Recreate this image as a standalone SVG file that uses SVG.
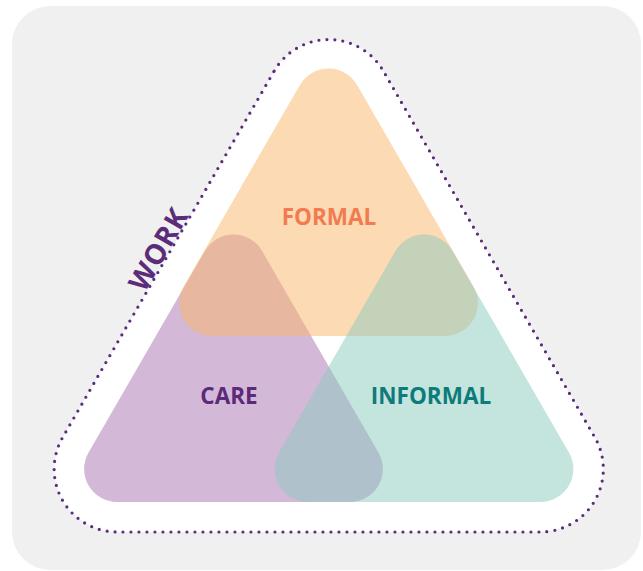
<svg xmlns="http://www.w3.org/2000/svg" width="643" height="571" viewBox="0 0 643 571">
<style>
.bg{fill:#f0f0f0}
.work{fill:#ffffff;stroke:#5b2c7a;stroke-width:3.2;stroke-linecap:round;stroke-dasharray:0 8}
.tri{fill-opacity:0.5}
.lbl{font-family:"Open Sans","Liberation Sans",sans-serif;font-weight:700;font-size:22.5px;text-anchor:middle}
.big{font-size:28px;letter-spacing:1px}
</style>
<rect class="bg" x="12" y="6" width="629" height="564" rx="38"/>
<g id="work">
<path class="work" d="M274.19 71 A63 63 0 0 1 383.31 71 L594.89 437.5 A63 63 0 0 1 540.35 532 L117.15 532 A63 63 0 0 1 62.61 437.5 Z"/>
<text class="lbl big" fill="#5b2c7a" transform="translate(167 254) rotate(-60)">WORK</text>
</g>
<g id="care">
<path class="tri" fill="#a971af" d="M204.92 251 A33 33 0 0 1 262.08 251 L378.42 452.5 A33 33 0 0 1 349.84 502 L117.16 502 A33 33 0 0 1 88.58 452.5 Z"/>
<text class="lbl" fill="#5b2a78" x="229" y="404">CARE</text>
</g>
<g id="formal">
<path class="tri" fill="#f9b569" d="M299.92 85 A33 33 0 0 1 357.08 85 L473.42 286.5 A33 33 0 0 1 444.84 336 L212.16 336 A33 33 0 0 1 183.58 286.5 Z"/>
<text class="lbl" fill="#f07c50" x="329" y="225">FORMAL</text>
</g>
<g id="informal">
<path class="tri" fill="#89c9bd" d="M395.42 251 A33 33 0 0 1 452.58 251 L568.92 452.5 A33 33 0 0 1 540.34 502 L307.66 502 A33 33 0 0 1 279.08 452.5 Z"/>
<text class="lbl" fill="#0e7b7b" x="431" y="404">INFORMAL</text>
</g>
</svg>
